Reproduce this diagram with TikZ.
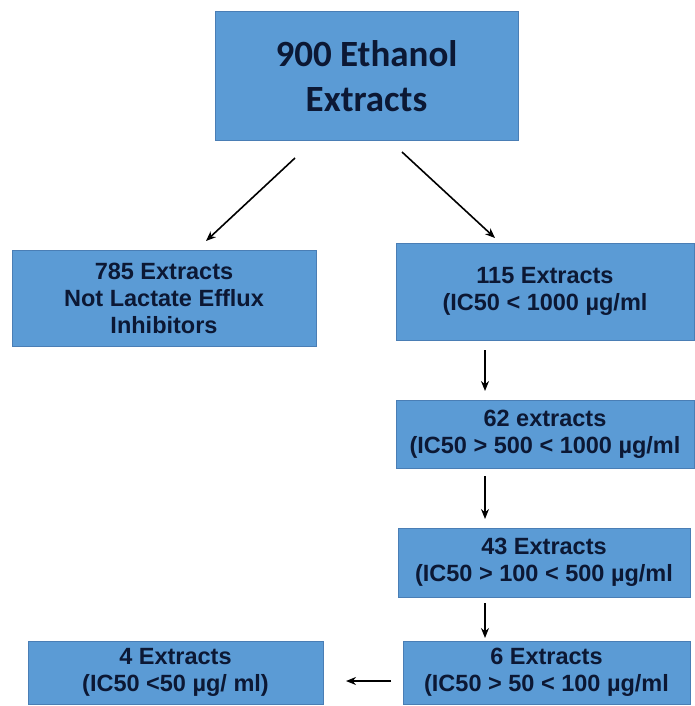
\documentclass[tikz,border=0pt]{standalone}
\usepackage{fontspec}
\setmainfont{Liberation Sans}
\newfontfamily\titlefont{Carlito}
\usetikzlibrary{arrows.meta}
\definecolor{boxfill}{HTML}{5B9BD5}
\definecolor{boxline}{HTML}{4A7EB5}
\definecolor{txt}{HTML}{0C1834}
\begin{document}
\begin{tikzpicture}[x=1pt,y=-1pt,
  box/.style={draw=boxline, line width=1pt, fill=boxfill, text=txt, align=center, inner sep=0pt,
    font=\fontsize{23.5}{27}\selectfont\bfseries},
  arr/.style={-{Stealth[length=10pt,width=8pt]}, line width=1.6pt, black}]
\useasboundingbox (0,0) rectangle (695,706);
\fill[white] (0,0) rectangle (695,706);
\node[box, minimum width=303pt, minimum height=128pt, font=\titlefont\fontsize{37}{45}\selectfont\bfseries] (top) at (366.5,76) {900 Ethanol\\Extracts};
\node[box, minimum width=304pt, minimum height=96pt] (left) at (164,298) {785 Extracts\\Not Lactate Efflux\\Inhibitors};
\node[box, minimum width=298pt, minimum height=97pt] (b115) at (545,291.5) {115 Extracts\\(IC50 < 1000 µg/ml};
\node[box, minimum width=298pt, minimum height=68pt] (b62) at (545,434) {62 extracts\\(IC50 > 500 < 1000 µg/ml};
\node[box, minimum width=292pt, minimum height=69pt] (b43) at (544,562.5) {43 Extracts\\(IC50 > 100 < 500 µg/ml};
\node[box, minimum width=287pt, minimum height=63pt] (b6) at (546.5,672.5) {6 Extracts\\(IC50 > 50 < 100 µg/ml};
\node[box, minimum width=295pt, minimum height=63pt] (b4) at (175.5,672.5) {4 Extracts\\(IC50 <50 µg/ ml)};
\coordinate (a1s) at (295,158);
\coordinate (a1e) at (206,241);
\coordinate (a2s) at (402,152);
\coordinate (a2e) at (495,238);
\coordinate (a3s) at (485,350);
\coordinate (a3e) at (485,391);
\coordinate (a4s) at (485,476);
\coordinate (a4e) at (485,519);
\coordinate (a5s) at (485,603);
\coordinate (a5e) at (485,638);
\coordinate (a6s) at (391,681);
\coordinate (a6e) at (346,681);
\draw[arr] (a1s) -- (a1e);
\draw[arr] (a2s) -- (a2e);
\draw[arr] (a3s) -- (a3e);
\draw[arr] (a4s) -- (a4e);
\draw[arr] (a5s) -- (a5e);
\draw[arr] (a6s) -- (a6e);
\end{tikzpicture}
\end{document}
